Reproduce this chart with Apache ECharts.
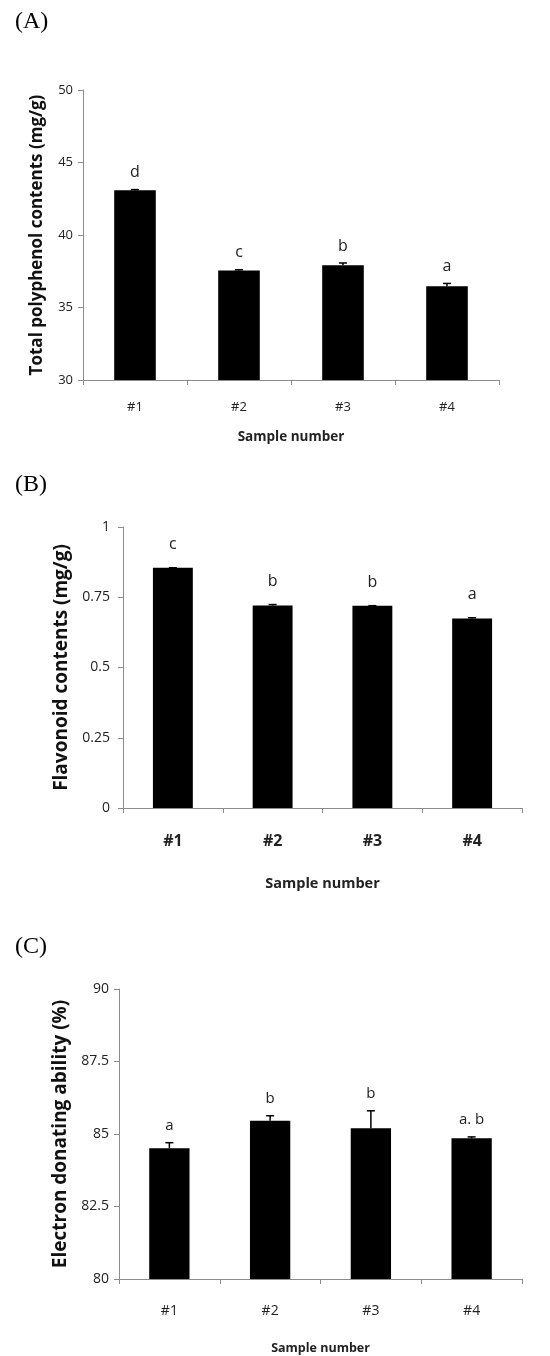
<!DOCTYPE html>
<html>
<head>
<meta charset="utf-8">
<script src="https://cdn.jsdelivr.net/npm/echarts@6/dist/echarts.min.js"></script>
<style>
  html, body { margin: 0; padding: 0; background: #fff; }
  #echarts { width: 550px; height: 1356px; }
</style>
</head>
<body>
<div id="echarts"></div>
<script>
var categories = ['#1', '#2', '#3', '#4'];

// (A) total polyphenol
var polyMean = [43.08, 37.55, 37.92, 36.46];
var polyErr = [0.05, 0.05, 0.15, 0.2];
var polyLetters = ['d', 'c', 'b', 'a'];

// (B) flavonoid
var flavMean = [0.855, 0.721, 0.72, 0.674];
var flavErr = [0, 0.003, 0, 0.003];
var flavLetters = ['c', 'b', 'b', 'a'];

// (C) electron donating ability
var edaMean = [84.51, 85.46, 85.2, 84.85];
var edaErr = [0.19, 0.17, 0.6, 0.05];
var edaLetters = ['a', 'b', 'b', 'a. b'];

var FONT = 'Open Sans';

var myChart = echarts.init(document.getElementById('echarts'));

function errSeries(idx, mean, err, letters, offset, fontSize) {
    var data = [];
    for (var i = 0; i < mean.length; i++) {
        data.push([i, mean[i], mean[i] + err[i]]);
    }
    return {
        type: 'custom',
        xAxisIndex: idx,
        yAxisIndex: idx,
        data: data,
        z: 5,
        renderItem: function (params, api) {
            var lo = api.coord([api.value(0), api.value(1)]);
            var hi = api.coord([api.value(0), api.value(2)]);
            var children = [];
            if (hi[1] < lo[1] - 0.5) {
                children.push({
                    type: 'line',
                    shape: { x1: lo[0], y1: lo[1], x2: hi[0], y2: hi[1] },
                    style: { stroke: '#000', lineWidth: 1.5 }
                });
            }
            children.push({
                type: 'line',
                shape: { x1: hi[0] - 4, y1: hi[1], x2: hi[0] + 4, y2: hi[1] },
                style: { stroke: '#000', lineWidth: 1.5 }
            });
            children.push({
                type: 'text',
                style: {
                    text: letters[params.dataIndex],
                    x: hi[0],
                    y: hi[1] - offset,
                    align: 'center',
                    verticalAlign: 'middle',
                    fill: '#222',
                    font: fontSize + 'px "' + FONT + '"'
                }
            });
            return { type: 'group', children: children };
        }
    };
}

function xAx(idx, labelSize, labelWeight, labelMargin, nameSize, nameGap) {
    return {
        gridIndex: idx,
        type: 'category',
        data: categories,
        name: 'Sample number',
        nameLocation: 'middle',
        nameGap: nameGap,
        nameTextStyle: { fontFamily: FONT, fontSize: nameSize, fontWeight: 'bold', color: '#222' },
        axisLine: { lineStyle: { color: '#8c8c8c', width: 1 } },
        axisTick: { show: true, length: 5, lineStyle: { color: '#8c8c8c' } },
        axisLabel: { fontFamily: FONT, fontSize: labelSize, fontWeight: labelWeight, color: '#222', margin: labelMargin },
        splitLine: { show: false }
    };
}

function yAx(idx, min, max, interval, name, nameSize, nameGap, labelSize, labelMargin) {
    return {
        gridIndex: idx,
        type: 'value',
        min: min,
        max: max,
        interval: interval,
        name: name,
        nameLocation: 'middle',
        nameRotate: 90,
        nameGap: nameGap,
        nameTextStyle: { fontFamily: FONT, fontSize: nameSize, fontWeight: 'bold', color: '#111' },
        axisLine: { show: true, lineStyle: { color: '#8c8c8c', width: 1 } },
        axisTick: { show: true, length: 5, lineStyle: { color: '#8c8c8c' } },
        axisLabel: { fontFamily: FONT, fontSize: labelSize, color: '#222', margin: labelMargin },
        splitLine: { show: false }
    };
}

var titleStyle = { fontFamily: 'Liberation Serif', fontSize: 24, fontWeight: 'normal', color: '#000' };

var option = {
    backgroundColor: '#fff',
    animation: false,
    title: [
        { text: '(A)', left: 10, top: 5, textStyle: titleStyle },
        { text: '(B)', left: 10, top: 468, textStyle: titleStyle },
        { text: '(C)', left: 10, top: 930, textStyle: titleStyle }
    ],
    grid: [
        { left: 83, top: 90, width: 416, height: 290 },
        { left: 123, top: 527, width: 399, height: 281 },
        { left: 119, top: 989, width: 403, height: 291 }
    ],
    xAxis: [
        xAx(0, 13, 'normal', 21, 13.5, 50),
        xAx(1, 16, 'bold', 25, 14.5, 68),
        xAx(2, 14, 'normal', 25, 12.5, 63)
    ],
    yAxis: [
        yAx(0, 30, 50, 5, 'Total polyphenol contents (mg/g)', 17, 37, 13, 10),
        yAx(1, 0, 1, 0.25, 'Flavonoid contents (mg/g)', 19, 50, 14, 13),
        yAx(2, 80, 90, 2.5, 'Electron donating ability (%)', 19, 46, 14, 10)
    ],
    series: [
        { type: 'bar', xAxisIndex: 0, yAxisIndex: 0, data: polyMean, barWidth: '40%', itemStyle: { color: '#000' } },
        { type: 'bar', xAxisIndex: 1, yAxisIndex: 1, data: flavMean, barWidth: '40%', itemStyle: { color: '#000' } },
        { type: 'bar', xAxisIndex: 2, yAxisIndex: 2, data: edaMean, barWidth: '40%', itemStyle: { color: '#000' } },
        errSeries(0, polyMean, polyErr, polyLetters, 17, 16),
        errSeries(1, flavMean, flavErr, flavLetters, 23, 16),
        errSeries(2, edaMean, edaErr, edaLetters, 17, 15)
    ]
};
myChart.setOption(option);
</script>
</body>
</html>
